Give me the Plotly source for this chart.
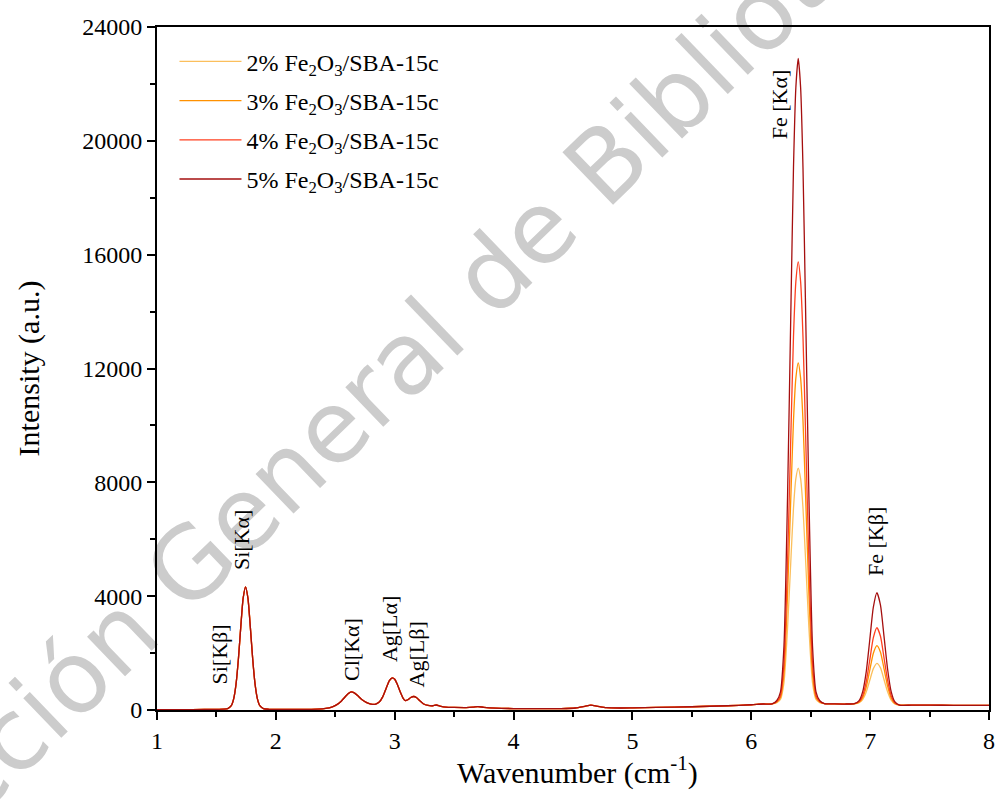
import plotly.graph_objects as go

# ---------------- data ----------------
# shared low-energy part of the spectra (all four samples overlap here)
x_base = [1.00, 1.20, 1.40, 1.50, 1.56, 1.595, 1.625, 1.645, 1.665, 1.685, 1.705, 1.725, 1.745,
          1.765, 1.785, 1.805, 1.825, 1.845, 1.865, 1.895, 1.94, 2.00, 2.20, 2.35, 2.42, 2.47,
          2.51, 2.55, 2.58, 2.61, 2.635, 2.66, 2.69, 2.72, 2.76, 2.80, 2.835, 2.87, 2.90, 2.93,
          2.955, 2.98, 3.00, 3.02, 3.045, 3.07, 3.09, 3.11, 3.135, 3.16, 3.185, 3.21, 3.24, 3.28,
          3.32, 3.35, 3.38, 3.43, 3.50, 3.60, 3.66, 3.70, 3.75, 3.85, 4.00, 4.20, 4.40, 4.52,
          4.60, 4.65, 4.70, 4.78, 4.90, 5.00, 5.20, 5.50, 5.80, 6.00, 6.10]
y_base = [15, 15, 18, 22, 30, 50, 150, 390, 910, 1800, 2930, 3930, 4330,
          3930, 2930, 1800, 910, 390, 150, 50, 25, 18, 20, 30, 55, 100,
          180, 310, 450, 580, 635, 600, 500, 380, 270, 210, 200, 280, 470, 780,
          1030, 1130, 1080, 920, 650, 420, 330, 360, 440, 475, 430, 330, 220, 160,
          150, 175, 140, 100, 90, 85, 100, 120, 95, 65, 50, 45, 50, 70,
          130, 170, 140, 80, 70, 75, 90, 115, 150, 185, 210]

# Fe K-alpha region
x_fe_ka = [6.175, 6.215, 6.245, 6.275, 6.305, 6.335, 6.355, 6.375, 6.395,
           6.415, 6.435, 6.455, 6.485, 6.515, 6.545, 6.575, 6.615]
y_fe_ka_2 = [215, 261, 369, 965, 2870, 5436, 7092, 8127, 8500,
             8127, 7092, 5436, 2870, 965, 369, 261, 225]
y_fe_ka_3 = [215, 280, 436, 1298, 4054, 7767, 10163, 11661, 12200,
             11661, 10163, 7767, 4054, 1298, 436, 280, 225]
y_fe_ka_4 = [215, 298, 500, 1618, 5190, 10004, 13110, 15051, 15750,
             15051, 13110, 10004, 5190, 1618, 500, 298, 225]
y_fe_ka_5 = [215, 333, 628, 2261, 7478, 14508, 19044, 21879, 22900,
             21879, 19044, 14508, 7478, 2261, 628, 333, 225]

# between the Fe lines
x_mid = [6.70, 6.80]
y_mid = [215, 210]

# Fe K-beta region
x_fe_kb = [6.867, 6.907, 6.937, 6.967, 6.997, 7.027, 7.057,
           7.087, 7.117, 7.147, 7.177, 7.207, 7.247]
y_fe_kb_2 = [216, 255, 368, 628, 1044, 1453, 1640, 1480, 1064, 639, 346, 215, 172]
y_fe_kb_3 = [218, 274, 436, 806, 1400, 1993, 2260, 2032, 1443, 837, 420, 234, 172]
y_fe_kb_4 = [221, 294, 504, 988, 1763, 2542, 2890, 2593, 1827, 1039, 496, 254, 172]
y_fe_kb_5 = [226, 332, 638, 1342, 2470, 3613, 4120, 3688, 2577, 1433, 644, 292, 172]

# high-energy tail
x_tail = [7.35, 7.50, 7.70, 7.90, 8.00]
y_tail = [170, 168, 165, 162, 160]

series_names = ["2% Fe<sub>2</sub>O<sub>3</sub>/SBA-15c",
                "3% Fe<sub>2</sub>O<sub>3</sub>/SBA-15c",
                "4% Fe<sub>2</sub>O<sub>3</sub>/SBA-15c",
                "5% Fe<sub>2</sub>O<sub>3</sub>/SBA-15c"]
series_colors = ["#FBBF5C", "#FF9100", "#FF4020", "#A50F0F"]
fe_ka = [y_fe_ka_2, y_fe_ka_3, y_fe_ka_4, y_fe_ka_5]
fe_kb = [y_fe_kb_2, y_fe_kb_3, y_fe_kb_4, y_fe_kb_5]

peak_labels = ["Si[Kβ]", "Si[Kα]", "Cl[Kα]", "Ag[Lα]", "Ag[Lβ]", "Fe [Kα]", "Fe [Kβ]"]
peak_label_x = [1.526, 1.716, 2.632, 2.957, 3.191, 6.235, 7.045]
peak_label_y = [1933, 5974, 2143, 2864, 1968, 21294, 5921]

x_ticks = [1, 2, 3, 4, 5, 6, 7, 8]
y_ticks = [0, 4000, 8000, 12000, 16000, 20000, 24000]

x_title = "Wavenumber (cm<sup>-1</sup>)"
y_title = "Intensity (a.u.)"

# ---------------- figure ----------------
x_all = x_base + x_fe_ka + x_mid + x_fe_kb + x_tail
fig = go.Figure()
for i, (name, color, ka, kb) in enumerate(zip(series_names, series_colors, fe_ka, fe_kb)):
    y_all = y_base + ka + y_mid + kb + y_tail
    fig.add_trace(go.Scatter(
        x=x_all, y=y_all, mode="lines", name=name, legendgroup="g%d" % i,
        line=dict(color=color, width=1.3, shape="spline", smoothing=0.6),
    ))

serif = "Liberation Serif"

for t, x, y in zip(peak_labels, peak_label_x, peak_label_y):
    fig.add_annotation(x=x, y=y, xref="x", yref="y", text=t, textangle=-90,
                       showarrow=False, xanchor="center", yanchor="middle",
                       font=dict(family=serif, size=22, color="black"))

# x-axis title placed as a paper annotation
fig.add_annotation(x=0.505, y=-0.088, xref="paper", yref="paper", text=x_title,
                   showarrow=False, xanchor="center", yanchor="middle",
                   font=dict(family=serif, size=30, color="black"))

# watermark (drawn below the data)
wx, wy = 0.2733, 0.5007
fig.add_shape(type="rect", xref="paper", yref="paper",
              x0=wx - 0.001, x1=wx + 0.001, y0=wy - 0.001, y1=wy + 0.001,
              line=dict(width=0), fillcolor="rgba(0,0,0,0)", layer="below",
              label=dict(text="Dirección General de Bibliotecas", textangle=-44,
                         textposition="middle center",
                         font=dict(family="DejaVu Sans", size=100, color="#CCCCCC")))

axis_common = dict(
    showline=True, linecolor="black", linewidth=2, mirror=True,
    ticks="outside", ticklen=8, tickwidth=2, tickcolor="black",
    showgrid=False, zeroline=False, tickformat="d",
    tickfont=dict(family=serif, size=24, color="black"),
)

fig.update_layout(
    width=1003, height=812,
    margin=dict(l=157, r=8, t=27, b=102),
    paper_bgcolor="white", plot_bgcolor="white",
    font=dict(family=serif, color="black"),
    xaxis=dict(range=[1, 8], tickvals=x_ticks,
               minor=dict(dtick=0.5, ticklen=5, tickwidth=2, tickcolor="black", ticks="outside"),
               **axis_common),
    yaxis=dict(range=[0, 24000], tickvals=y_ticks,
               minor=dict(dtick=2000, ticklen=5, tickwidth=2, tickcolor="black", ticks="outside"),
               title=dict(text=y_title,
                          font=dict(family=serif, size=30, color="black"), standoff=34),
               **axis_common),
    legend=dict(x=0.021, y=0.982, xanchor="left", yanchor="top",
                bgcolor="rgba(0,0,0,0)", borderwidth=0,
                font=dict(family=serif, size=24, color="black"),
                itemwidth=62, tracegroupgap=5),
    showlegend=True,
)

fig.write_html("out.html")
